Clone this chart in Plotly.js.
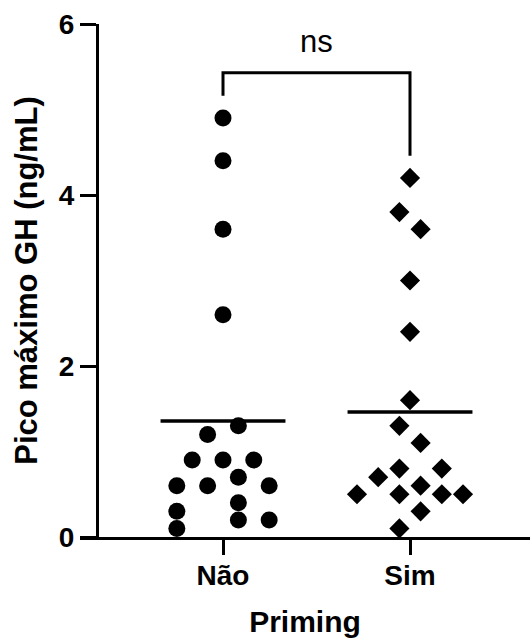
<!DOCTYPE html>
<html>
<head>
<meta charset="utf-8">
<script src="https://cdn.plot.ly/plotly-3.0.1.min.js"></script>
<style>html,body{margin:0;padding:0;background:#fff;}#chart{width:530px;height:640px;}</style>
</head>
<body>
<div id="chart"></div>
<script>
// ---- data ----
const categories = ['Não', 'Sim'];
const naoValues = [4.9, 4.4, 3.6, 2.6, 1.3, 1.2, 0.9, 0.9, 0.9, 0.7, 0.6, 0.6, 0.6, 0.4, 0.3, 0.2, 0.2, 0.1];
const simValues = [4.2, 3.8, 3.6, 3.0, 2.4, 1.6, 1.3, 1.1, 0.8, 0.8, 0.7, 0.6, 0.5, 0.5, 0.5, 0.5, 0.3, 0.1];
// swarm columns (layout of the dot plot, not data)
const naoCols = [0, 0, 0, 0, 1, -1, -2, 0, 2, 1, -3, -1, 3, 1, -3, 1, 3, -3];
const simCols = [0, -1, 1, 0, 0, 0, -1, 1, -1, 3, -3, 1, -5, -1, 3, 5, 1, -1];
const yTickVals = [0, 2, 4, 6];
const sigLabel = 'ns';
const xTitle = 'Priming';
const yTitle = 'Pico máximo GH (ng/mL)';

// ---- build ----
const naoStep = 0.0823, simStep = 0.0567, meanHalf = 0.334;
const mean = a => a.reduce((s, v) => s + v, 0) / a.length;
const naoX = naoCols.map(c => 1 + c * naoStep);
const simX = simCols.map(c => 2 + c * simStep);
const naoMean = mean(naoValues), simMean = mean(simValues);
const naoMax = Math.max(...naoValues), simMax = Math.max(...simValues);
const bracketTop = Math.max(naoMax, simMax) + 0.53;

const traces = [
  {x: naoX, y: naoValues, type: 'scatter', mode: 'markers', cliponaxis: false,
   marker: {symbol: 'circle', size: 17, color: '#000'}},
  {x: simX, y: simValues, type: 'scatter', mode: 'markers', cliponaxis: false,
   marker: {symbol: 'diamond', size: 15.5, color: '#000'}},
  {x: [1 - meanHalf, 1 + meanHalf], y: [naoMean, naoMean], type: 'scatter', mode: 'lines',
   line: {color: '#000', width: 3.5}},
  {x: [2 - meanHalf, 2 + meanHalf], y: [simMean, simMean], type: 'scatter', mode: 'lines',
   line: {color: '#000', width: 3.5}},
  {x: [1, 1, 2, 2], y: [naoMax + 0.26, bracketTop, bracketTop, simMax + 0.26], type: 'scatter', mode: 'lines',
   line: {color: '#000', width: 3}, cliponaxis: false}
];

const boldFont = s => ({family: 'Liberation Sans, Arial, sans-serif', size: s, color: '#000', weight: 'bold'});

const layout = {
  width: 530, height: 640,
  margin: {l: 80, r: 0, t: 24, b: 103},
  paper_bgcolor: '#fff', plot_bgcolor: '#fff',
  showlegend: false,
  xaxis: {
    range: [0.2353, 2.6417], tickvals: [1, 2], ticktext: categories,
    showline: true, linecolor: '#000', linewidth: 3,
    ticks: 'outside', ticklen: 15, tickwidth: 3, tickcolor: '#000',
    showgrid: false, zeroline: false, tickfont: boldFont(28), ticklabelstandoff: -4,
    title: {text: xTitle, font: boldFont(30), standoff: 22},
    automargin: false, fixedrange: true
  },
  yaxis: {
    range: [0, 6], tickvals: yTickVals, anchor: 'free', position: 17 / 450,
    showline: true, linecolor: '#000', linewidth: 3,
    ticks: 'outside', ticklen: 16, tickwidth: 3, tickcolor: '#000',
    showgrid: false, zeroline: false, tickfont: boldFont(28),
    title: {text: yTitle, font: boldFont(31), standoff: 10},
    automargin: false, fixedrange: true
  },
  annotations: [{
    x: 1.5, y: bracketTop, xref: 'x', yref: 'y', text: sigLabel, showarrow: false,
    yanchor: 'bottom', yshift: 12,
    font: {family: 'Liberation Sans, Arial, sans-serif', size: 31, color: '#000'}
  }]
};

Plotly.newPlot('chart', traces, layout, {displayModeBar: false, staticPlot: true});
</script>
</body>
</html>
